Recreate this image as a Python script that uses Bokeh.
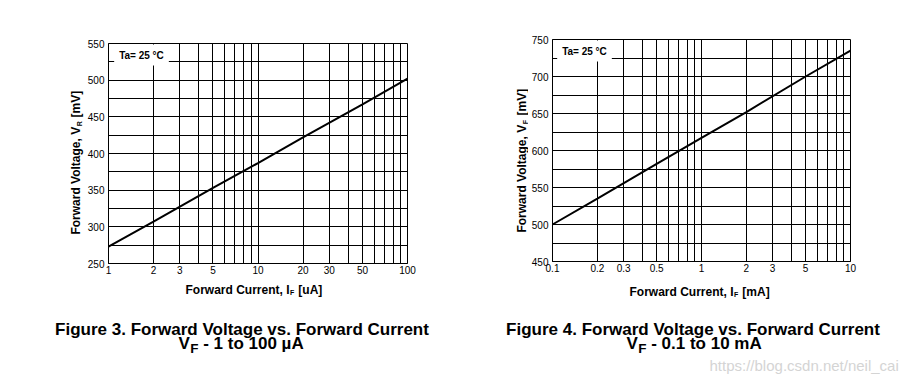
import numpy as np
from bokeh.plotting import figure
from bokeh.models import FixedTicker, CustomJSTickFormatter, Label, Range1d
from bokeh.layouts import row, column
from bokeh.embed import file_html
from bokeh.resources import INLINE

# ---- Figure 3 data: VF vs IF, 1 to 100 uA ----
cur_ua = [1, 2, 5, 10, 20, 50, 100]
vf_mv_fig3 = [273, 307, 353, 387, 422, 467, 502]
x_ticks_fig3 = [1, 2, 3, 5, 10, 20, 30, 50, 100]
x_grid_fig3 = [1, 2, 3, 4, 5, 6, 7, 8, 9, 10, 20, 30, 40, 50, 60, 70, 80, 90, 100]
y_ticks_fig3 = [250, 300, 350, 400, 450, 500, 550]
y_grid_fig3 = [250, 275, 300, 325, 350, 375, 400, 425, 450, 475, 500, 525, 550]

# ---- Figure 4 data: VF vs IF, 0.1 to 10 mA ----
cur_ma = [0.1, 0.2, 0.5, 1, 2, 5, 10]
vf_mv_fig4 = [500, 535, 582, 617, 652, 700, 735]
x_ticks_fig4 = [0.1, 0.2, 0.3, 0.5, 1, 2, 3, 5, 10]
x_grid_fig4 = [0.1, 0.2, 0.3, 0.4, 0.5, 0.6, 0.7, 0.8, 0.9, 1, 2, 3, 4, 5, 6, 7, 8, 9, 10]
y_ticks_fig4 = [450, 500, 550, 600, 650, 700, 750]
y_grid_fig4 = [450, 475, 500, 525, 550, 575, 600, 625, 650, 675, 700, 725, 750]

FONT = "Liberation Sans"
ROW_H = 281          # chart row height (both groups)
PAGE_BOTTOM = 378    # bottom of caption strips
BOT_H = PAGE_BOTTOM - ROW_H


def lab(p, text, x, y, size, align="left", baseline="alphabetic", style="bold",
        angle=0.0, color="black", **kw):
    p.add_layout(Label(x=x, y=y, x_units="screen", y_units="screen", text=text,
                       text_font=FONT, text_font_size=size, text_font_style=style,
                       text_align=align, text_baseline=baseline, angle=angle,
                       text_color=color, **kw))


def text_fig(w, h, bt=0, bb=0):
    f = figure(width=w, height=h, x_range=Range1d(0, w), y_range=Range1d(0, h),
               min_border_left=0, min_border_right=0,
               min_border_top=bt, min_border_bottom=bb,
               toolbar_location=None, output_backend="svg", title=None,
               x_axis_location=None, y_axis_location=None,
               background_fill_color="white", border_fill_color="white",
               outline_line_color=None)
    f.xgrid.visible = False
    f.ygrid.visible = False
    return f


def make_fig(x, y, xr, yr, xt, xg, yt, yg, fw, fh, bl, br, bt, bb):
    p = figure(x_axis_type="log", x_range=Range1d(*xr), y_range=Range1d(*yr),
               frame_width=fw, frame_height=fh,
               min_border_left=bl, min_border_right=br,
               min_border_top=bt, min_border_bottom=bb,
               toolbar_location=None, output_backend="svg", title=None,
               background_fill_color="white", border_fill_color="white")
    p.outline_line_color = "black"
    p.outline_line_width = 1
    p.outline_line_alpha = 1
    p.xaxis.ticker = FixedTicker(ticks=xt)
    p.xaxis.formatter = CustomJSTickFormatter(code="return tick.toString();")
    p.yaxis.ticker = FixedTicker(ticks=yt)
    p.xgrid.ticker = FixedTicker(ticks=xg)
    p.ygrid.ticker = FixedTicker(ticks=yg)
    for g in (p.xgrid, p.ygrid):
        g.grid_line_color = "black"
        g.grid_line_width = 1
        g.grid_line_alpha = 1
    for ax in (p.xaxis, p.yaxis):
        ax.axis_label = None
        ax.axis_label_standoff = 0
        ax.major_tick_out = 0
        ax.major_tick_in = 0
        ax.minor_tick_out = 0
        ax.minor_tick_in = 0
        ax.axis_line_color = "black"
        ax.major_label_text_font = FONT
        ax.major_label_text_font_size = "10px"
        ax.major_label_text_color = "black"
        ax.major_label_standoff = 2
    p.yaxis.major_label_standoff = 4
    p.line(x, y, line_color="black", line_width=2)
    return p


def by(page_y, lift=3.0):
    return PAGE_BOTTOM - page_y + lift


# ===== left group (Figure 3) =====
# frame: page x 105..404, y 43..263
F1_TOP, F1_BOTTOM = 43, 263
p1 = make_fig(cur_ua, vf_mv_fig3, (1, 100), (250, 550), x_ticks_fig3, x_grid_fig3,
              y_ticks_fig3, y_grid_fig3, 299, F1_BOTTOM - F1_TOP, 21, 45,
              F1_TOP, ROW_H - F1_BOTTOM)
lab(p1, "Ta= 25 °C", 33, 208.5, "10px", align="center", baseline="middle",
    background_fill_color="white", padding=5)

ylab1 = text_fig(84, ROW_H, bt=F1_TOP, bb=ROW_H - F1_BOTTOM)
lab(ylab1, "Forward Voltage, V", 75, F1_BOTTOM - 126.3, "12px", align="right",
    baseline="middle", angle=np.pi / 2)
lab(ylab1, "R", 79, F1_BOTTOM - 125.8, "7px", align="left", baseline="middle", angle=np.pi / 2)
lab(ylab1, "[mV]", 75, F1_BOTTOM - 117, "12px", align="left", baseline="middle", angle=np.pi / 2)

bot1 = text_fig(449, BOT_H)
lab(bot1, "Forward Current, I", 289, by(291.6, 2), "12px", align="right")
lab(bot1, "F", 289.5, by(294, 2), "7px", align="left")
lab(bot1, "[uA]", 297.8, by(291.6, 2), "12px", align="left")
lab(bot1, "Figure 3. Forward Voltage vs. Forward Current", 241.5, by(332.3), "17px", align="center")
lab(bot1, "V", 178, by(345.5), "17px", align="left")
lab(bot1, "F", 189.7, by(350.7), "13.5px", align="left")
lab(bot1, "- 1 to 100 µA", 202.7, by(345.5), "17px", align="left")

# ===== right group (Figure 4) =====
# frame: page x 549..847, y 39..261
X0 = 449
F2_TOP, F2_BOTTOM = 39, 261
p2 = make_fig(cur_ma, vf_mv_fig4, (0.1, 10), (450, 750), x_ticks_fig4, x_grid_fig4,
              y_ticks_fig4, y_grid_fig4, 298, F2_BOTTOM - F2_TOP, 24, 59,
              F2_TOP, ROW_H - F2_BOTTOM)
lab(p2, "Ta= 25 °C", 32, 210.5, "10px", align="center", baseline="middle",
    background_fill_color="white", padding=5)

ylab2 = text_fig(76, ROW_H, bt=F2_TOP, bb=ROW_H - F2_BOTTOM)
lab(ylab2, "Forward Voltage, V", 69, F2_BOTTOM - 124.3, "12px", align="right",
    baseline="middle", angle=np.pi / 2)
lab(ylab2, "F", 73, F2_BOTTOM - 123.8, "7px", align="left", baseline="middle", angle=np.pi / 2)
lab(ylab2, "[mV]", 69, F2_BOTTOM - 115, "12px", align="left", baseline="middle", angle=np.pi / 2)

bot2 = text_fig(457, BOT_H)
lab(bot2, "Forward Current, I", 730 - X0, by(294.3), "12px", align="right")
lab(bot2, "F", 730.5 - X0, by(296.7), "7px", align="left")
lab(bot2, "[mA]", 738.8 - X0, by(294.3), "12px", align="left")
lab(bot2, "Figure 4. Forward Voltage vs. Forward Current", 689.5 - X0, by(332.3), "17px", align="center")
lab(bot2, "V", 623 - X0, by(345.5), "17px", align="left")
lab(bot2, "F", 634.7 - X0, by(350.7), "13.5px", align="left")
lab(bot2, "- 0.1 to 10 mA", 647.7 - X0, by(345.5), "17px", align="left")
lab(bot2, "https://blog.csdn.net/neil_cai", 706 - X0, by(368), "15px", align="left",
    style="normal", color="#d4d4d4")

left_group = column(row(ylab1, p1), bot1)
right_group = column(row(ylab2, p2), bot2)
layout = row(left_group, right_group)
open("out.html", "w").write(file_html(layout, INLINE))
